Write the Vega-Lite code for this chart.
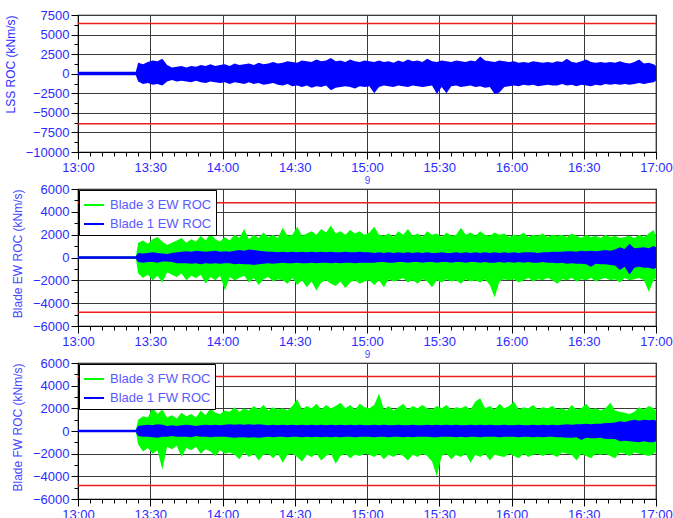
{
"$schema": "https://vega.github.io/schema/vega-lite/v6.json",
"padding": {"left": 3, "top": 8, "right": 0, "bottom": 0},
"background": "white",
"config": {
  "view": {"stroke": "black", "strokeWidth": 1.2},
  "font": "Liberation Sans",
  "axis": {"grid": true, "gridColor": "#3a3a3a", "gridWidth": 1, "domainColor": "black", "tickColor": "black", "labelColor": "#2b2bff", "labelFont": "Liberation Sans", "labelFontSize": 13, "titleFont": "Liberation Sans", "titleFontWeight": "normal", "titleFontSize": 12, "titleColor": "#4646ff", "labelOverlap": false, "tickSize": 6},
  "axisX": {"titleFontSize": 10, "titlePadding": 1, "labelFlush": false, "labelPadding": 2},
  "axisY": {"titleAnchor": "end", "titlePadding": 8, "labelPadding": 2},
  "legend": {"orient": "top-left", "offset": 1, "strokeColor": "black", "fillColor": "white", "padding": 4, "symbolType": "M-1,-0.1H1V0.1H-1Z", "symbolSize": 400, "labelFontSize": 13, "labelFont": "Liberation Sans", "labelColor": "#5a5aff", "rowPadding": 1, "labelOffset": 5}
},
"data": {"values": [
{"m":0,"l1":250,"l0":-200,"eg1":80,"eg0":-80,"eb1":120,"eb0":-120,"fg1":80,"fg0":-80,"fb1":120,"fb0":-120},
{"m":24,"l1":250,"l0":-200,"eg1":80,"eg0":-80,"eb1":120,"eb0":-120,"fg1":80,"fg0":-80,"fb1":120,"fb0":-120},
{"m":25,"l1":1400,"l0":-1000,"eg1":1300,"eg0":-1400,"eb1":400,"eb0":-400,"fg1":1000,"fg0":-1200,"fb1":450,"fb0":-450},
{"m":27,"l1":1200,"l0":-1300,"eg1":1500,"eg0":-1800,"eb1":350,"eb0":-450,"fg1":1300,"fg0":-1800,"fb1":500,"fb0":-500},
{"m":29,"l1":1500,"l0":-1200,"eg1":1200,"eg0":-1500,"eb1":400,"eb0":-400,"fg1":1200,"fg0":-1500,"fb1":550,"fb0":-500},
{"m":31,"l1":1700,"l0":-1400,"eg1":1600,"eg0":-2000,"eb1":450,"eb0":-400,"fg1":2100,"fg0":-2000,"fb1":500,"fb0":-550},
{"m":33,"l1":1600,"l0":-1300,"eg1":1800,"eg0":-1600,"eb1":400,"eb0":-450,"fg1":1500,"fg0":-1700,"fb1":600,"fb0":-600},
{"m":35,"l1":1900,"l0":-1500,"eg1":1400,"eg0":-2200,"eb1":350,"eb0":-350,"fg1":1900,"fg0":-3400,"fb1":550,"fb0":-500},
{"m":37,"l1":1100,"l0":-1000,"eg1":1100,"eg0":-1300,"eb1":300,"eb0":-350,"fg1":1200,"fg0":-1400,"fb1":450,"fb0":-500},
{"m":39,"l1":800,"l0":-800,"eg1":1300,"eg0":-1500,"eb1":400,"eb0":-400,"fg1":1400,"fg0":-1600,"fb1":500,"fb0":-450},
{"m":41,"l1":900,"l0":-1000,"eg1":1500,"eg0":-1700,"eb1":450,"eb0":-500,"fg1":1100,"fg0":-1300,"fb1":450,"fb0":-500},
{"m":43,"l1":1000,"l0":-900,"eg1":1700,"eg0":-1400,"eb1":500,"eb0":-500,"fg1":1600,"fg0":-2300,"fb1":500,"fb0":-500},
{"m":45,"l1":800,"l0":-1000,"eg1":1300,"eg0":-2000,"eb1":550,"eb0":-500,"fg1":1300,"fg0":-1500,"fb1":550,"fb0":-500},
{"m":47,"l1":1000,"l0":-1100,"eg1":1600,"eg0":-1600,"eb1":500,"eb0":-550,"fg1":1500,"fg0":-1700,"fb1":500,"fb0":-550},
{"m":49,"l1":900,"l0":-900,"eg1":1400,"eg0":-1800,"eb1":600,"eb0":-500,"fg1":1200,"fg0":-1400,"fb1":450,"fb0":-450},
{"m":51,"l1":1100,"l0":-1100,"eg1":1900,"eg0":-1500,"eb1":550,"eb0":-600,"fg1":1800,"fg0":-2000,"fb1":500,"fb0":-500},
{"m":53,"l1":1000,"l0":-1200,"eg1":1500,"eg0":-2300,"eb1":500,"eb0":-500,"fg1":1400,"fg0":-1600,"fb1":550,"fb0":-500},
{"m":55,"l1":1200,"l0":-1000,"eg1":2100,"eg0":-1700,"eb1":550,"eb0":-550,"fg1":2000,"fg0":-1800,"fb1":500,"fb0":-550},
{"m":57,"l1":1000,"l0":-1100,"eg1":1600,"eg0":-2000,"eb1":600,"eb0":-500,"fg1":1600,"fg0":-2200,"fb1":550,"fb0":-500},
{"m":59,"l1":1100,"l0":-1200,"eg1":1400,"eg0":-1600,"eb1":500,"eb0":-550,"fg1":1500,"fg0":-1700,"fb1":500,"fb0":-500},
{"m":61,"l1":1200,"l0":-1100,"eg1":1800,"eg0":-2900,"eb1":550,"eb0":-500,"fg1":1800,"fg0":-2000,"fb1":550,"fb0":-500},
{"m":63,"l1":1000,"l0":-1300,"eg1":1500,"eg0":-1700,"eb1":500,"eb0":-500,"fg1":1700,"fg0":-1900,"fb1":600,"fb0":-550},
{"m":65,"l1":1300,"l0":-1100,"eg1":2000,"eg0":-2000,"eb1":600,"eb0":-600,"fg1":2100,"fg0":-2100,"fb1":550,"fb0":-600},
{"m":67,"l1":1100,"l0":-1200,"eg1":1700,"eg0":-1800,"eb1":650,"eb0":-550,"fg1":1700,"fg0":-2500,"fb1":600,"fb0":-550},
{"m":69,"l1":1200,"l0":-1300,"eg1":2500,"eg0":-1600,"eb1":600,"eb0":-600,"fg1":2000,"fg0":-1900,"fb1":550,"fb0":-550},
{"m":71,"l1":1300,"l0":-1100,"eg1":1600,"eg0":-2200,"eb1":700,"eb0":-600,"fg1":1800,"fg0":-2300,"fb1":600,"fb0":-600},
{"m":73,"l1":1100,"l0":-1300,"eg1":2000,"eg0":-1800,"eb1":650,"eb0":-650,"fg1":2200,"fg0":-2000,"fb1":550,"fb0":-550},
{"m":75,"l1":1400,"l0":-1200,"eg1":1700,"eg0":-2400,"eb1":600,"eb0":-600,"fg1":1900,"fg0":-2600,"fb1":600,"fb0":-600},
{"m":77,"l1":1200,"l0":-1400,"eg1":2200,"eg0":-1900,"eb1":550,"eb0":-550,"fg1":2300,"fg0":-2100,"fb1":550,"fb0":-550},
{"m":79,"l1":1300,"l0":-1300,"eg1":1800,"eg0":-1700,"eb1":500,"eb0":-500,"fg1":1800,"fg0":-2000,"fb1":500,"fb0":-500},
{"m":81,"l1":1500,"l0":-1200,"eg1":2000,"eg0":-2100,"eb1":500,"eb0":-550,"fg1":2100,"fg0":-2400,"fb1":550,"fb0":-550},
{"m":83,"l1":1300,"l0":-1400,"eg1":1700,"eg0":-1900,"eb1":450,"eb0":-500,"fg1":1900,"fg0":-2000,"fb1":500,"fb0":-500},
{"m":85,"l1":1400,"l0":-1500,"eg1":2600,"eg0":-2000,"eb1":500,"eb0":-450,"fg1":2000,"fg0":-2800,"fb1":550,"fb0":-500},
{"m":87,"l1":1600,"l0":-1300,"eg1":1900,"eg0":-2300,"eb1":450,"eb0":-500,"fg1":1800,"fg0":-2100,"fb1":500,"fb0":-550},
{"m":89,"l1":1500,"l0":-1600,"eg1":2000,"eg0":-1800,"eb1":500,"eb0":-500,"fg1":2200,"fg0":-2000,"fb1":550,"fb0":-500},
{"m":91,"l1":1400,"l0":-1500,"eg1":2700,"eg0":-2400,"eb1":450,"eb0":-450,"fg1":2800,"fg0":-2300,"fb1":500,"fb0":-500},
{"m":93,"l1":1700,"l0":-1700,"eg1":1900,"eg0":-2000,"eb1":500,"eb0":-500,"fg1":1900,"fg0":-2700,"fb1":550,"fb0":-550},
{"m":95,"l1":1600,"l0":-1500,"eg1":2100,"eg0":-2600,"eb1":450,"eb0":-500,"fg1":2200,"fg0":-2100,"fb1":500,"fb0":-500},
{"m":97,"l1":1500,"l0":-1800,"eg1":2300,"eg0":-2100,"eb1":500,"eb0":-450,"fg1":2000,"fg0":-2300,"fb1":550,"fb0":-550},
{"m":99,"l1":1800,"l0":-1600,"eg1":2000,"eg0":-2900,"eb1":450,"eb0":-500,"fg1":2400,"fg0":-2000,"fb1":500,"fb0":-500},
{"m":101,"l1":1600,"l0":-1700,"eg1":2500,"eg0":-2200,"eb1":500,"eb0":-450,"fg1":1900,"fg0":-2600,"fb1":550,"fb0":-550},
{"m":103,"l1":1700,"l0":-1500,"eg1":2200,"eg0":-2000,"eb1":450,"eb0":-450,"fg1":2300,"fg0":-2200,"fb1":500,"fb0":-500},
{"m":105,"l1":2000,"l0":-2100,"eg1":2800,"eg0":-2300,"eb1":500,"eb0":-500,"fg1":2000,"fg0":-2000,"fb1":550,"fb0":-550},
{"m":107,"l1":1600,"l0":-1800,"eg1":2100,"eg0":-2500,"eb1":450,"eb0":-450,"fg1":2200,"fg0":-2900,"fb1":500,"fb0":-500},
{"m":109,"l1":1700,"l0":-1700,"eg1":2300,"eg0":-2100,"eb1":450,"eb0":-500,"fg1":2500,"fg0":-2200,"fb1":550,"fb0":-550},
{"m":111,"l1":1500,"l0":-1600,"eg1":2000,"eg0":-2700,"eb1":500,"eb0":-450,"fg1":2000,"fg0":-2000,"fb1":500,"fb0":-500},
{"m":113,"l1":1800,"l0":-1700,"eg1":2400,"eg0":-2200,"eb1":450,"eb0":-450,"fg1":2300,"fg0":-2400,"fb1":550,"fb0":-500},
{"m":115,"l1":1600,"l0":-1900,"eg1":2100,"eg0":-2000,"eb1":450,"eb0":-500,"fg1":1900,"fg0":-2100,"fb1":500,"fb0":-550},
{"m":117,"l1":1500,"l0":-1600,"eg1":2300,"eg0":-2300,"eb1":500,"eb0":-450,"fg1":2400,"fg0":-2200,"fb1":550,"fb0":-500},
{"m":119,"l1":1700,"l0":-1700,"eg1":2000,"eg0":-2100,"eb1":450,"eb0":-450,"fg1":2100,"fg0":-2000,"fb1":500,"fb0":-500},
{"m":121,"l1":1600,"l0":-1600,"eg1":2200,"eg0":-2000,"eb1":450,"eb0":-450,"fg1":2000,"fg0":-2100,"fb1":500,"fb0":-500},
{"m":123,"l1":1500,"l0":-2500,"eg1":2700,"eg0":-2400,"eb1":400,"eb0":-450,"fg1":2300,"fg0":-2300,"fb1":550,"fb0":-550},
{"m":125,"l1":1700,"l0":-1700,"eg1":2000,"eg0":-2000,"eb1":450,"eb0":-400,"fg1":3300,"fg0":-2000,"fb1":500,"fb0":-500},
{"m":127,"l1":1500,"l0":-1500,"eg1":1900,"eg0":-2600,"eb1":400,"eb0":-400,"fg1":1900,"fg0":-2500,"fb1":550,"fb0":-500},
{"m":129,"l1":1600,"l0":-1600,"eg1":2100,"eg0":-1900,"eb1":450,"eb0":-450,"fg1":2200,"fg0":-2100,"fb1":500,"fb0":-550},
{"m":131,"l1":1400,"l0":-1700,"eg1":1800,"eg0":-2100,"eb1":400,"eb0":-450,"fg1":1800,"fg0":-2300,"fb1":500,"fb0":-500},
{"m":133,"l1":1700,"l0":-1500,"eg1":2300,"eg0":-2000,"eb1":450,"eb0":-400,"fg1":2100,"fg0":-2000,"fb1":550,"fb0":-500},
{"m":135,"l1":1500,"l0":-1600,"eg1":2000,"eg0":-1800,"eb1":400,"eb0":-400,"fg1":2400,"fg0":-2200,"fb1":500,"fb0":-550},
{"m":137,"l1":1800,"l0":-1700,"eg1":2500,"eg0":-2200,"eb1":450,"eb0":-450,"fg1":1900,"fg0":-2600,"fb1":500,"fb0":-500},
{"m":139,"l1":1600,"l0":-1500,"eg1":1900,"eg0":-2000,"eb1":400,"eb0":-400,"fg1":2200,"fg0":-2100,"fb1":550,"fb0":-550},
{"m":141,"l1":1700,"l0":-1600,"eg1":2100,"eg0":-2300,"eb1":450,"eb0":-400,"fg1":2000,"fg0":-2300,"fb1":500,"fb0":-500},
{"m":143,"l1":1500,"l0":-1700,"eg1":1800,"eg0":-1900,"eb1":400,"eb0":-450,"fg1":2300,"fg0":-2000,"fb1":500,"fb0":-500},
{"m":145,"l1":1900,"l0":-1600,"eg1":2300,"eg0":-2100,"eb1":450,"eb0":-400,"fg1":2000,"fg0":-2200,"fb1":550,"fb0":-500},
{"m":147,"l1":1600,"l0":-1500,"eg1":2000,"eg0":-2600,"eb1":400,"eb0":-400,"fg1":1900,"fg0":-2700,"fb1":500,"fb0":-550},
{"m":149,"l1":1500,"l0":-2600,"eg1":2100,"eg0":-2000,"eb1":400,"eb0":-450,"fg1":2200,"fg0":-4000,"fb1":550,"fb0":-550},
{"m":151,"l1":1700,"l0":-1700,"eg1":1800,"eg0":-2200,"eb1":450,"eb0":-400,"fg1":2000,"fg0":-2200,"fb1":500,"fb0":-500},
{"m":153,"l1":1600,"l0":-2500,"eg1":2200,"eg0":-1900,"eb1":400,"eb0":-400,"fg1":2300,"fg0":-2000,"fb1":550,"fb0":-500},
{"m":155,"l1":1500,"l0":-1600,"eg1":1900,"eg0":-2100,"eb1":400,"eb0":-450,"fg1":1900,"fg0":-2500,"fb1":500,"fb0":-500},
{"m":157,"l1":1700,"l0":-1500,"eg1":2000,"eg0":-2000,"eb1":450,"eb0":-400,"fg1":2100,"fg0":-2100,"fb1":550,"fb0":-550},
{"m":159,"l1":1600,"l0":-1700,"eg1":2600,"eg0":-2300,"eb1":400,"eb0":-400,"fg1":2000,"fg0":-2300,"fb1":500,"fb0":-500},
{"m":161,"l1":1500,"l0":-1600,"eg1":2000,"eg0":-1900,"eb1":450,"eb0":-450,"fg1":2200,"fg0":-2000,"fb1":500,"fb0":-550},
{"m":163,"l1":1700,"l0":-1500,"eg1":2200,"eg0":-2100,"eb1":400,"eb0":-400,"fg1":1900,"fg0":-2800,"fb1":550,"fb0":-500},
{"m":165,"l1":1600,"l0":-1700,"eg1":1900,"eg0":-2000,"eb1":450,"eb0":-400,"fg1":2600,"fg0":-2100,"fb1":500,"fb0":-500},
{"m":167,"l1":2200,"l0":-1600,"eg1":2300,"eg0":-2200,"eb1":400,"eb0":-450,"fg1":2900,"fg0":-2300,"fb1":550,"fb0":-550},
{"m":169,"l1":1700,"l0":-1800,"eg1":2000,"eg0":-1900,"eb1":450,"eb0":-400,"fg1":2000,"fg0":-2000,"fb1":500,"fb0":-500},
{"m":171,"l1":1600,"l0":-1700,"eg1":1900,"eg0":-2400,"eb1":400,"eb0":-450,"fg1":2200,"fg0":-2600,"fb1":550,"fb0":-500},
{"m":173,"l1":1500,"l0":-2600,"eg1":2200,"eg0":-3500,"eb1":450,"eb0":-450,"fg1":1900,"fg0":-2100,"fb1":500,"fb0":-500},
{"m":175,"l1":1700,"l0":-2400,"eg1":2000,"eg0":-2100,"eb1":400,"eb0":-400,"fg1":2400,"fg0":-2200,"fb1":500,"fb0":-550},
{"m":177,"l1":1600,"l0":-1700,"eg1":2100,"eg0":-1900,"eb1":450,"eb0":-450,"fg1":2000,"fg0":-2300,"fb1":550,"fb0":-500},
{"m":179,"l1":1500,"l0":-1600,"eg1":1800,"eg0":-2000,"eb1":400,"eb0":-400,"fg1":2200,"fg0":-2000,"fb1":500,"fb0":-500},
{"m":181,"l1":1600,"l0":-1500,"eg1":2000,"eg0":-1900,"eb1":450,"eb0":-450,"fg1":2600,"fg0":-2200,"fb1":500,"fb0":-500},
{"m":183,"l1":1400,"l0":-1600,"eg1":1900,"eg0":-2200,"eb1":400,"eb0":-400,"fg1":1900,"fg0":-2400,"fb1":550,"fb0":-550},
{"m":185,"l1":1500,"l0":-1400,"eg1":2200,"eg0":-2000,"eb1":450,"eb0":-450,"fg1":2100,"fg0":-2000,"fb1":500,"fb0":-500},
{"m":187,"l1":1400,"l0":-1500,"eg1":1800,"eg0":-1800,"eb1":450,"eb0":-400,"fg1":2000,"fg0":-2300,"fb1":500,"fb0":-500},
{"m":189,"l1":1600,"l0":-1400,"eg1":2000,"eg0":-2100,"eb1":450,"eb0":-450,"fg1":2300,"fg0":-2100,"fb1":550,"fb0":-550},
{"m":191,"l1":1500,"l0":-1600,"eg1":1900,"eg0":-1900,"eb1":400,"eb0":-450,"fg1":1900,"fg0":-2000,"fb1":500,"fb0":-500},
{"m":193,"l1":1400,"l0":-1500,"eg1":2100,"eg0":-2000,"eb1":450,"eb0":-400,"fg1":2100,"fg0":-2200,"fb1":550,"fb0":-550},
{"m":195,"l1":1500,"l0":-1400,"eg1":1800,"eg0":-1800,"eb1":450,"eb0":-450,"fg1":2000,"fg0":-2000,"fb1":500,"fb0":-500},
{"m":197,"l1":1400,"l0":-1500,"eg1":2000,"eg0":-2000,"eb1":500,"eb0":-450,"fg1":2200,"fg0":-2100,"fb1":550,"fb0":-500},
{"m":199,"l1":1600,"l0":-1500,"eg1":1900,"eg0":-2300,"eb1":500,"eb0":-500,"fg1":1900,"fg0":-2300,"fb1":500,"fb0":-550},
{"m":201,"l1":1500,"l0":-1300,"eg1":2000,"eg0":-1900,"eb1":500,"eb0":-450,"fg1":2000,"fg0":-1900,"fb1":550,"fb0":-550},
{"m":203,"l1":1900,"l0":-1500,"eg1":1800,"eg0":-2000,"eb1":550,"eb0":-550,"fg1":1800,"fg0":-2000,"fb1":600,"fb0":-600},
{"m":205,"l1":1500,"l0":-1400,"eg1":2100,"eg0":-1800,"eb1":550,"eb0":-500,"fg1":2300,"fg0":-2100,"fb1":550,"fb0":-600},
{"m":207,"l1":1400,"l0":-1600,"eg1":1900,"eg0":-2100,"eb1":500,"eb0":-550,"fg1":1900,"fg0":-2600,"fb1":600,"fb0":-550},
{"m":209,"l1":1600,"l0":-1400,"eg1":1700,"eg0":-1900,"eb1":600,"eb0":-550,"fg1":2000,"fg0":-2000,"fb1":600,"fb0":-800},
{"m":211,"l1":1800,"l0":-1500,"eg1":2000,"eg0":-2000,"eb1":550,"eb0":-600,"fg1":2400,"fg0":-2200,"fb1":650,"fb0":-600},
{"m":213,"l1":1500,"l0":-1600,"eg1":1800,"eg0":-1800,"eb1":600,"eb0":-800,"fg1":1900,"fg0":-2400,"fb1":600,"fb0":-650},
{"m":215,"l1":1400,"l0":-1400,"eg1":1900,"eg0":-2100,"eb1":550,"eb0":-550,"fg1":2000,"fg0":-2000,"fb1":650,"fb0":-650},
{"m":217,"l1":1500,"l0":-1500,"eg1":1700,"eg0":-1900,"eb1":600,"eb0":-600,"fg1":1800,"fg0":-2100,"fb1":650,"fb0":-600},
{"m":219,"l1":1400,"l0":-1300,"eg1":2000,"eg0":-1800,"eb1":650,"eb0":-600,"fg1":2000,"fg0":-2000,"fb1":700,"fb0":-700},
{"m":221,"l1":1500,"l0":-1400,"eg1":1800,"eg0":-2000,"eb1":600,"eb0":-650,"fg1":2500,"fg0":-2200,"fb1":700,"fb0":-700},
{"m":223,"l1":1400,"l0":-1300,"eg1":1900,"eg0":-1900,"eb1":700,"eb0":-700,"fg1":1800,"fg0":-2400,"fb1":750,"fb0":-700},
{"m":225,"l1":1600,"l0":-1400,"eg1":1700,"eg0":-2200,"eb1":900,"eb0":-1100,"fg1":1700,"fg0":-1900,"fb1":850,"fb0":-900},
{"m":227,"l1":1400,"l0":-1300,"eg1":1800,"eg0":-1800,"eb1":750,"eb0":-800,"fg1":1600,"fg0":-2000,"fb1":800,"fb0":-850},
{"m":229,"l1":1300,"l0":-1400,"eg1":1900,"eg0":-2000,"eb1":1200,"eb0":-1500,"fg1":1500,"fg0":-2200,"fb1":900,"fb0":-900},
{"m":231,"l1":1500,"l0":-1300,"eg1":1700,"eg0":-1900,"eb1":800,"eb0":-900,"fg1":1700,"fg0":-1900,"fb1":1000,"fb0":-950},
{"m":233,"l1":1800,"l0":-1200,"eg1":2000,"eg0":-1800,"eb1":850,"eb0":-800,"fg1":2100,"fg0":-2000,"fb1":900,"fb0":-1000},
{"m":235,"l1":1300,"l0":-1300,"eg1":1800,"eg0":-2000,"eb1":900,"eb0":-900,"fg1":1900,"fg0":-2100,"fb1":1000,"fb0":-900},
{"m":237,"l1":1400,"l0":-1200,"eg1":2100,"eg0":-3000,"eb1":800,"eb0":-900,"fg1":2200,"fg0":-2200,"fb1":950,"fb0":-1000},
{"m":239,"l1":1200,"l0":-1100,"eg1":2400,"eg0":-2000,"eb1":1000,"eb0":-1000,"fg1":2000,"fg0":-2000,"fb1":1000,"fb0":-1000},
{"m":240,"l1":1000,"l0":-900,"eg1":1800,"eg0":-1800,"eb1":900,"eb0":-900,"fg1":1700,"fg0":-1800,"fb1":900,"fb0":-900}
]},
"vconcat": [
{
  "width": 578, "height": 137,
  "layer": [
    {"mark": {"type": "area", "color": "#0000ff"},
     "encoding": {
       "x": {"field": "m", "type": "quantitative", "title": "9", "scale": {"domain": [0, 240], "nice": false},
             "axis": {"values": [0,5,10,15,20,25,30,35,40,45,50,55,60,65,70,75,80,85,90,95,100,105,110,115,120,125,130,135,140,145,150,155,160,165,170,175,180,185,190,195,200,205,210,215,220,225,230,235,240], "tickCount": 100,
                      "labelExpr": "datum.value % 30 == 0 ? (13 + floor(datum.value / 60)) + ':' + (datum.value % 60 == 0 ? '00' : '30') : ''",
                      "gridOpacity": {"condition": {"test": "datum.value % 30 == 0", "value": 1}, "value": 0},
                      "tickSize": {"condition": {"test": "datum.value % 30 == 0", "value": 7}, "value": 4}}},
       "y": {"field": "l1", "type": "quantitative", "title": "LSS ROC (kNm/s)", "scale": {"domain": [-10000, 7500], "nice": false},
             "axis": {"values": [-10000, -8750, -7500, -6250, -5000, -3750, -2500, -1250, 0, 1250, 2500, 3750, 5000, 6250, 7500], "tickCount": 40, "format": "d", "titleColor": "#2a2aff",
                      "labelExpr": "datum.value % 2500 == 0 ? datum.label : ''",
                      "gridOpacity": {"condition": {"test": "datum.value % 2500 == 0", "value": 1}, "value": 0},
                      "tickSize": {"condition": {"test": "datum.value % 2500 == 0", "value": 7}, "value": 4}}},
       "y2": {"field": "l0"}
     }},
    {"data": {"values": [{"v": 6400}, {"v": -6400}]},
     "mark": {"type": "rule", "color": "#ee1c1c", "strokeWidth": 1.5},
     "encoding": {"y": {"field": "v", "type": "quantitative"}}}
  ]
},
{
  "width": 578, "height": 137,
  "layer": [
    {"mark": {"type": "area"},
     "encoding": {
       "x": {"field": "m", "type": "quantitative", "title": "9", "scale": {"domain": [0, 240], "nice": false},
             "axis": {"values": [0,5,10,15,20,25,30,35,40,45,50,55,60,65,70,75,80,85,90,95,100,105,110,115,120,125,130,135,140,145,150,155,160,165,170,175,180,185,190,195,200,205,210,215,220,225,230,235,240], "tickCount": 100,
                      "labelExpr": "datum.value % 30 == 0 ? (13 + floor(datum.value / 60)) + ':' + (datum.value % 60 == 0 ? '00' : '30') : ''",
                      "gridOpacity": {"condition": {"test": "datum.value % 30 == 0", "value": 1}, "value": 0},
                      "tickSize": {"condition": {"test": "datum.value % 30 == 0", "value": 7}, "value": 4}}},
       "y": {"field": "eg1", "type": "quantitative", "title": "Blade EW ROC (kNm/s)", "scale": {"domain": [-6000, 6000], "nice": false},
             "axis": {"values": [-6000, -5000, -4000, -3000, -2000, -1000, 0, 1000, 2000, 3000, 4000, 5000, 6000], "tickCount": 40, "format": "d",
                      "labelExpr": "datum.value % 2000 == 0 ? datum.label : ''",
                      "gridOpacity": {"condition": {"test": "datum.value % 2000 == 0", "value": 1}, "value": 0},
                      "tickSize": {"condition": {"test": "datum.value % 2000 == 0", "value": 7}, "value": 4}}},
       "y2": {"field": "eg0"},
       "color": {"datum": "Blade 3 EW ROC", "type": "nominal", "scale": {"domain": ["Blade 3 EW ROC", "Blade 1 EW ROC"], "range": ["#00ff00", "#0000ff"]}, "legend": {"title": null}}
     }},
    {"mark": {"type": "area"},
     "encoding": {
       "x": {"field": "m", "type": "quantitative"},
       "y": {"field": "eb1", "type": "quantitative"},
       "y2": {"field": "eb0"},
       "color": {"datum": "Blade 1 EW ROC", "type": "nominal"}
     }},
    {"data": {"values": [{"v": 4800}, {"v": -4800}]},
     "mark": {"type": "rule", "color": "#ee1c1c", "strokeWidth": 1.5},
     "encoding": {"y": {"field": "v", "type": "quantitative"}}}
  ]
},
{
  "width": 578, "height": 136,
  "layer": [
    {"mark": {"type": "area"},
     "encoding": {
       "x": {"field": "m", "type": "quantitative", "title": null, "scale": {"domain": [0, 240], "nice": false},
             "axis": {"values": [0,5,10,15,20,25,30,35,40,45,50,55,60,65,70,75,80,85,90,95,100,105,110,115,120,125,130,135,140,145,150,155,160,165,170,175,180,185,190,195,200,205,210,215,220,225,230,235,240], "tickCount": 100,
                      "labelExpr": "datum.value % 30 == 0 ? (13 + floor(datum.value / 60)) + ':' + (datum.value % 60 == 0 ? '00' : '30') : ''",
                      "gridOpacity": {"condition": {"test": "datum.value % 30 == 0", "value": 1}, "value": 0},
                      "tickSize": {"condition": {"test": "datum.value % 30 == 0", "value": 7}, "value": 4}}},
       "y": {"field": "fg1", "type": "quantitative", "title": "Blade FW ROC (kNm/s)", "scale": {"domain": [-6000, 6000], "nice": false},
             "axis": {"values": [-6000, -5000, -4000, -3000, -2000, -1000, 0, 1000, 2000, 3000, 4000, 5000, 6000], "tickCount": 40, "format": "d",
                      "labelExpr": "datum.value % 2000 == 0 ? datum.label : ''",
                      "gridOpacity": {"condition": {"test": "datum.value % 2000 == 0", "value": 1}, "value": 0},
                      "tickSize": {"condition": {"test": "datum.value % 2000 == 0", "value": 7}, "value": 4}}},
       "y2": {"field": "fg0"},
       "color": {"datum": "Blade 3 FW ROC", "type": "nominal", "scale": {"domain": ["Blade 3 FW ROC", "Blade 1 FW ROC"], "range": ["#00ff00", "#0000ff"]}, "legend": {"title": null}}
     }},
    {"mark": {"type": "area"},
     "encoding": {
       "x": {"field": "m", "type": "quantitative"},
       "y": {"field": "fb1", "type": "quantitative"},
       "y2": {"field": "fb0"},
       "color": {"datum": "Blade 1 FW ROC", "type": "nominal"}
     }},
    {"data": {"values": [{"v": 4800}, {"v": -4800}]},
     "mark": {"type": "rule", "color": "#ee1c1c", "strokeWidth": 1.5},
     "encoding": {"y": {"field": "v", "type": "quantitative"}}}
  ]
}
],
"spacing": 37,
"bounds": "flush",
"resolve": {"scale": {"color": "independent"}, "legend": {"color": "independent"}}
}
